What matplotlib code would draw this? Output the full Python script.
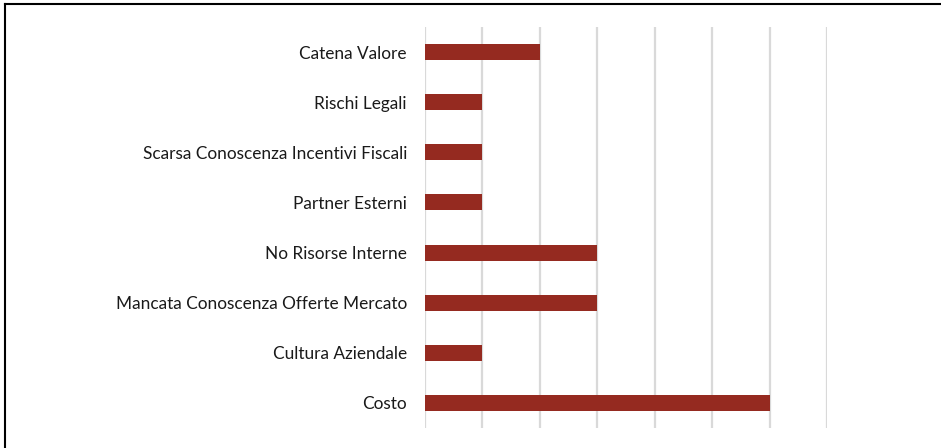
import matplotlib
matplotlib.use("Agg")
import matplotlib.pyplot as plt
from matplotlib.lines import Line2D

# categorie dal basso verso l'alto
categorie = [
    "Costo",
    "Cultura Aziendale",
    "Mancata Conoscenza Offerte Mercato",
    "No Risorse Interne",
    "Partner Esterni",
    "Scarsa Conoscenza Incentivi Fiscali",
    "Rischi Legali",
    "Catena Valore",
]
valori = [6, 1, 3, 3, 1, 1, 1, 2]

plt.rcParams['font.family'] = ['Lato', 'DejaVu Sans']

fig = plt.figure(figsize=(9.41, 4.48), dpi=100)
ax = fig.add_axes([0.4516, 0.0446, 0.4273, 0.8951])

y = list(range(len(categorie)))
ax.barh(y, valori, height=0.32, color='#952A20', zorder=3)

ax.set_xlim(0, 7)
ax.set_ylim(-0.5, len(categorie) - 0.5)
ax.set_xticks(range(0, 8))
ax.set_xticklabels([])
ax.set_yticks(y)
ax.set_yticklabels(categorie, fontsize=12.4, color='#1a1a1a')
ax.tick_params(axis='both', length=0)
ax.tick_params(axis='y', pad=13)
ax.grid(axis='x', color='#d9d9d9', linewidth=1.6, zorder=0)
for s in ax.spines.values():
    s.set_visible(False)

# cornice esterna (solo lato superiore e sinistro)
fig.add_artist(Line2D([5 / 941, 1], [1 - 4 / 448, 1 - 4 / 448], transform=fig.transFigure,
                      color='black', linewidth=1.5))
fig.add_artist(Line2D([5 / 941, 5 / 941], [0, 1 - 4 / 448], transform=fig.transFigure,
                      color='black', linewidth=1.5))

fig.savefig("out.png", dpi=100)
